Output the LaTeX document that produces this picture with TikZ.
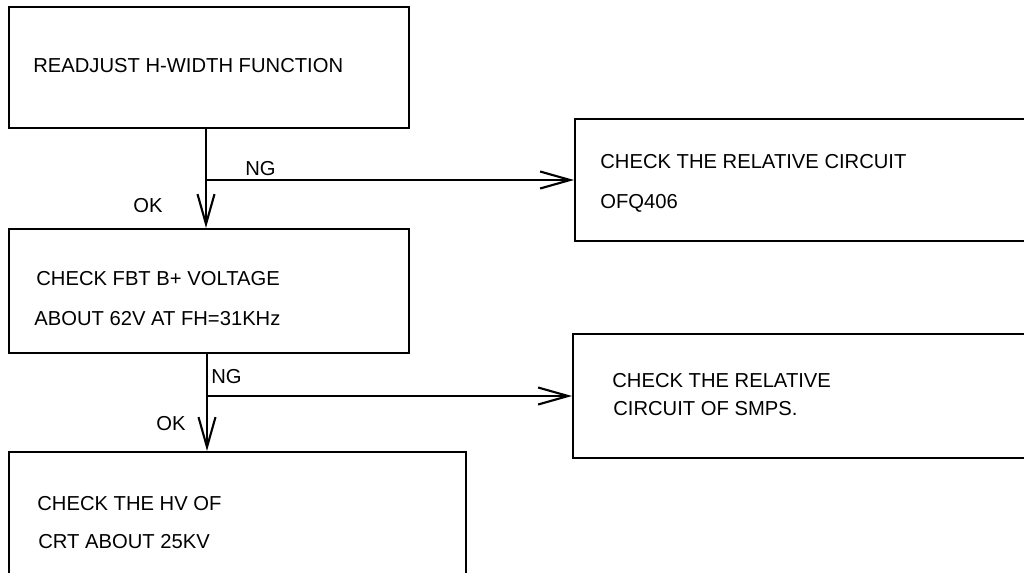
\documentclass[tikz,border=0pt]{standalone}
\usepackage{fontspec}
\setmainfont{Liberation Sans}
\usepackage{tikz}
\usetikzlibrary{arrows.meta,calc}
\tikzset{
  box/.style ={rectangle, draw=black, line width=1.2pt, fill=white, inner sep=0pt},
  txt/.style ={anchor=base west, inner sep=0pt, font=\fontsize{11.5pt}{13pt}\selectfont},
  ar/.style  ={-{Straight Barb[length=0.6cm, width=0.34cm, line width=1.2pt]}, line width=1.2pt}
}

\begin{document}
\begin{tikzpicture}[x=0.02cm, y=-0.02cm]
\useasboundingbox (0,0) rectangle (1024,572);
\clip (0,0) rectangle (1024,572);

% left column
\node[box, minimum width=8cm, minimum height=2.42cm] (readj) at (209,67.5) {};
\node[txt] (readjT) at (33,72) {READJUST H-WIDTH FUNCTION};

\node[box, minimum width=8cm, minimum height=2.48cm] (fbt) at (209,291) {};
\node[txt] (fbtA) at (36,285) {CHECK FBT B+ VOLTAGE};
\node[txt] (fbtB) at (34,325) {ABOUT 62V AT FH=31KHz};

\node[box, minimum width=9.14cm, minimum height=2.96cm] (hv) at (237.5,526) {};
\node[txt] (hvA) at (37,510) {CHECK THE HV OF};
\node[txt] (hvB) at (38,548) {CRT ABOUT 25KV};

% right column
\node[box, minimum width=9.3cm, minimum height=2.44cm] (rel1) at (807.5,180) {};
\node[txt] (rel1A) at (600,168) {CHECK THE RELATIVE CIRCUIT};
\node[txt] (rel1B) at (600,208) {OFQ406};

\node[box, minimum width=9.34cm, minimum height=2.48cm] (rel2) at (806.5,396) {};
\node[txt] (rel2A) at (612,387) {CHECK THE RELATIVE};
\node[txt] (rel2B) at (613,415) {CIRCUIT OF SMPS.};

% branches
\coordinate (j1) at (206,180);
\coordinate (j2) at (207,396);
\draw[ar] (readj.south -| j1) -- (fbt.north -| j1);
\draw[ar] (j1) -- (rel1.west |- j1);
\draw[ar] (fbt.south -| j2) -- (hv.north -| j2);
\draw[ar] (j2) -- (rel2.west |- j2);

\node[txt] (ng1) at (245,175) {NG};
\node[txt] (ok1) at (133,212) {OK};
\node[txt] (ng2) at (211,383) {NG};
\node[txt] (ok2) at (156,430) {OK};
\end{tikzpicture}
\end{document}
